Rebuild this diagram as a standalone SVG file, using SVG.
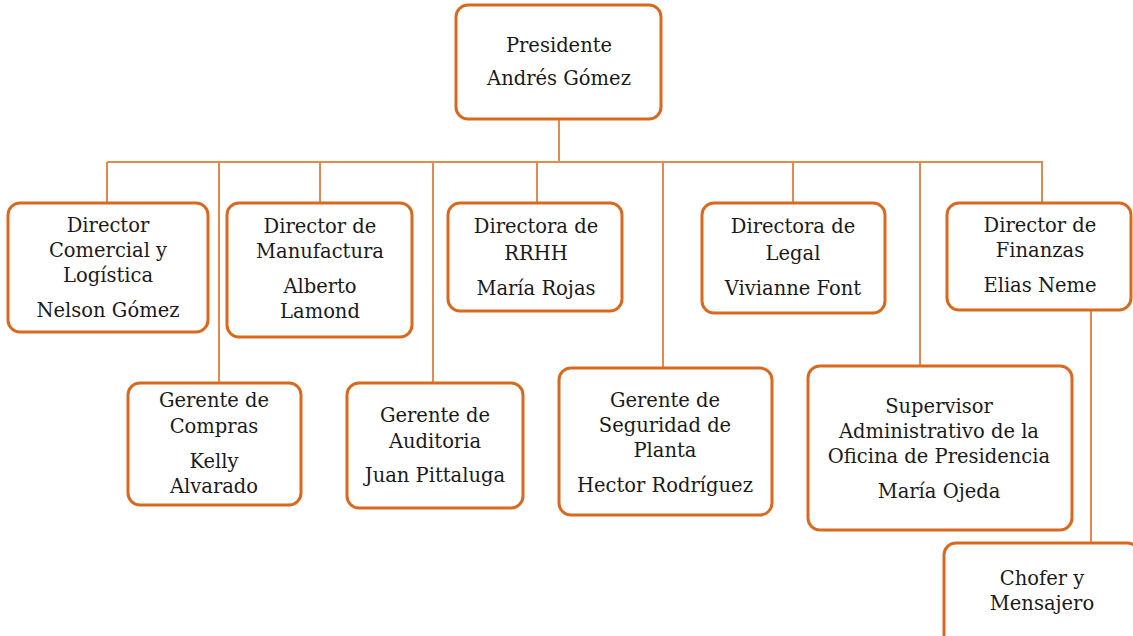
<svg xmlns="http://www.w3.org/2000/svg" width="1133" height="636" viewBox="0 0 1133 636">
<style>
.box{fill:#fff;stroke:#D9691F;stroke-width:3}
.ln{fill:none;stroke:#E58A4C;stroke-width:2}
text{fill:#1a1a1a;text-anchor:middle}
</style>
<rect width="1133" height="636" fill="#fff"/>
<g id="connectors">
<path class="ln" d="M559,119V162M107,162H1043M107,162V203M320,162V203M537,162V203M793,162V203M1042,162V203M219,162V383M433,162V383M663,162V368M920,162V366M1091,310V543"/>
</g>
<g font-family="DejaVu Serif, Liberation Serif, serif" font-size="19.5">
<g id="presidente"><rect class="box" x="456" y="5" width="205" height="114" rx="12"/>
<text x="559" y="52">Presidente</text><text x="559" y="85">Andrés Gómez</text></g>
<g id="dir-comercial"><rect class="box" x="8" y="203" width="200" height="129" rx="12"/>
<text x="108" y="232">Director</text><text x="108" y="257">Comercial y</text><text x="108" y="282">Logística</text><text x="108" y="317">Nelson Gómez</text></g>
<g id="dir-manufactura"><rect class="box" x="227" y="203" width="185" height="134" rx="12"/>
<text x="320" y="233">Director de</text><text x="320" y="258">Manufactura</text><text x="320" y="293">Alberto</text><text x="320" y="318">Lamond</text></g>
<g id="dir-rrhh"><rect class="box" x="448" y="203" width="174" height="108" rx="12"/>
<text x="536" y="233">Directora de</text><text x="536" y="260">RRHH</text><text x="536" y="295">María Rojas</text></g>
<g id="dir-legal"><rect class="box" x="702" y="203" width="183" height="110" rx="12"/>
<text x="793" y="233">Directora de</text><text x="793" y="260">Legal</text><text x="793" y="295">Vivianne Font</text></g>
<g id="dir-finanzas"><rect class="box" x="947" y="203" width="184" height="107" rx="12"/>
<text x="1040" y="232">Director de</text><text x="1040" y="257">Finanzas</text><text x="1040" y="292">Elias Neme</text></g>
<g id="ger-compras"><rect class="box" x="128" y="383" width="173" height="122" rx="12"/>
<text x="214" y="407">Gerente de</text><text x="214" y="433">Compras</text><text x="214" y="468">Kelly</text><text x="214" y="493">Alvarado</text></g>
<g id="ger-auditoria"><rect class="box" x="347" y="383" width="176" height="125" rx="12"/>
<text x="435" y="422">Gerente de</text><text x="435" y="448">Auditoria</text><text x="435" y="482">Juan Pittaluga</text></g>
<g id="ger-seguridad"><rect class="box" x="559" y="368" width="213" height="147" rx="12"/>
<text x="665" y="407">Gerente de</text><text x="665" y="432">Seguridad de</text><text x="665" y="457">Planta</text><text x="665" y="492">Hector Rodríguez</text></g>
<g id="supervisor"><rect class="box" x="808" y="366" width="264" height="164" rx="12"/>
<text x="939" y="413">Supervisor</text><text x="939" y="438">Administrativo de la</text><text x="939" y="463">Oficina de Presidencia</text><text x="939" y="498">María Ojeda</text></g>
<g id="chofer"><rect class="box" x="944" y="543" width="195" height="110" rx="12"/>
<text x="1042" y="585">Chofer y</text><text x="1042" y="610">Mensajero</text></g>
</g>
</svg>
